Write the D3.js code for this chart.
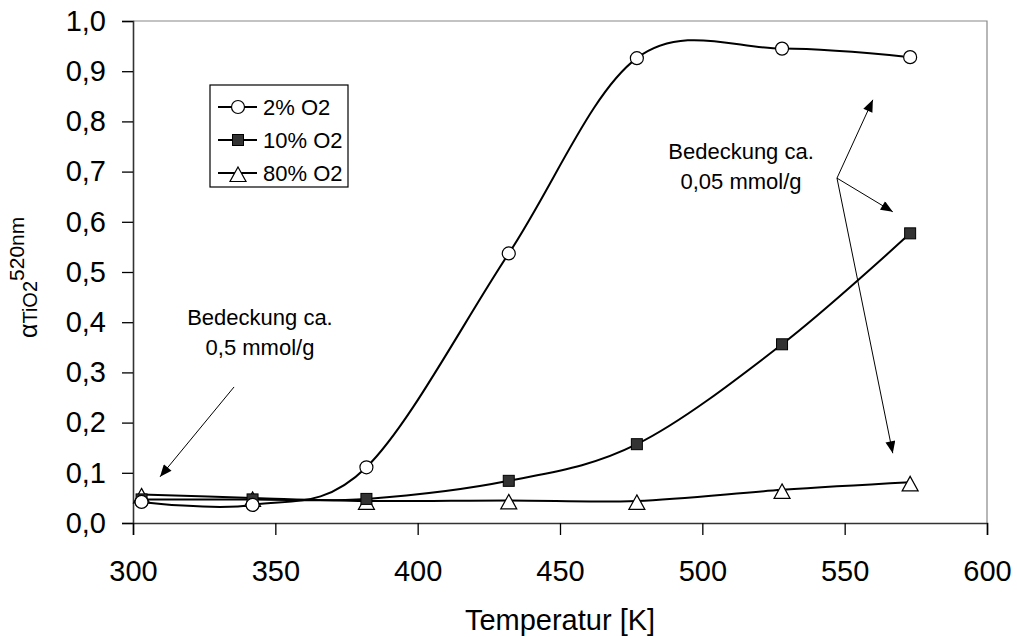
<!DOCTYPE html>
<html>
<head>
<meta charset="utf-8">
<script src="https://cdn.jsdelivr.net/npm/d3@7"></script>
<style>
  body { margin: 0; background: #fff; }
  svg { display: block; font-family: "Liberation Sans", Arial, sans-serif; }
</style>
</head>
<body>
<div class="chart"></div>
<script>
// temperatures [K]
const temps = [303, 342, 382, 432, 477, 528, 573];
// alpha TiO2 at 520nm for the three O2 concentrations
const o2_2 = [0.042, 0.036, 0.111, 0.537, 0.926, 0.945, 0.928];
const o2_10 = [0.047, 0.047, 0.048, 0.084, 0.157, 0.356, 0.577];
const o2_80 = [0.057, 0.050, 0.044, 0.045, 0.044, 0.066, 0.081];
const seriesNames = ['2% O2', '10% O2', '80% O2'];
const xTicks = [300, 350, 400, 450, 500, 550, 600];
const yTicks = [0, 0.1, 0.2, 0.3, 0.4, 0.5, 0.6, 0.7, 0.8, 0.9, 1.0];

const dims = { width: 1017, height: 637 };
const margin = { top: 21, right: 30, bottom: 114, left: 133 };
const w = dims.width - margin.left - margin.right;
const h = dims.height - margin.top - margin.bottom;

const svg = d3.select('.chart')
  .append('svg')
  .attr('width', dims.width)
  .attr('height', dims.height);

svg.append('defs').append('marker')
  .attr('id', 'head')
  .attr('viewBox', '0 0 12 10')
  .attr('refX', 12)
  .attr('refY', 5)
  .attr('markerWidth', 13)
  .attr('markerHeight', 10)
  .attr('markerUnits', 'userSpaceOnUse')
  .attr('orient', 'auto')
  .append('path')
  .attr('d', 'M0,0L12,5L0,10Z')
  .attr('fill', '#000');

const graph = svg.append('g')
  .attr('transform', `translate(${margin.left}, ${margin.top})`);

const x = d3.scaleLinear().domain([300, 600]).range([0, w]);
const y = d3.scaleLinear().domain([0, 1]).range([h, 0]);

// frame (top / right)
graph.append('path')
  .attr('d', `M0,0H${w}V${h}`)
  .attr('fill', 'none')
  .attr('stroke', '#888')
  .attr('stroke-width', 1.2);

const fmt = d => d3.format('.1f')(d).replace('.', ',');

const yAxis = graph.append('g')
  .call(d3.axisLeft(y).tickValues(yTicks).tickSize(11).tickPadding(16).tickFormat(fmt));
const xAxis = graph.append('g')
  .attr('transform', `translate(0, ${h})`)
  .call(d3.axisBottom(x).tickValues(xTicks).tickSize(12).tickPadding(25));

[xAxis, yAxis].forEach(a => {
  a.select('.domain').attr('stroke', '#333').attr('stroke-width', 1.6);
  a.selectAll('.tick line').attr('stroke', '#000').attr('stroke-width', 1.3);
  a.selectAll('text').attr('font-size', 29).attr('fill', '#000')
    .attr('font-family', '"Liberation Sans", Arial, sans-serif');
});

// axis titles
svg.append('text')
  .attr('x', margin.left + w / 2)
  .attr('y', 630)
  .attr('text-anchor', 'middle')
  .attr('font-size', 29)
  .text('Temperatur [K]');

const yTitle = svg.append('text')
  .attr('transform', `translate(37, ${margin.top + h / 2 + 66}) rotate(-90)`)
  .attr('font-size', 20);
yTitle.append('tspan').attr('font-size', 25).text('α');
yTitle.append('tspan').text('TiO2');
yTitle.append('tspan').attr('dy', -13).attr('font-size', 21).text('520nm');

// series
const series = [o2_2, o2_10, o2_80].map((vals, i) => ({
  name: seriesNames[i],
  points: temps.map((t, j) => ({ t, v: vals[j] }))
}));

const line = d3.line()
  .x(d => x(d.t))
  .y(d => y(d.v))
  .curve(d3.curveCardinal.tension(0));

graph.selectAll('path.series')
  .data(series)
  .enter()
  .append('path')
  .attr('class', 'series')
  .attr('d', d => line(d.points))
  .attr('fill', 'none')
  .attr('stroke', '#000')
  .attr('stroke-width', 2);

const tri = 'M0,-7.5L8,7L-8,7Z';
function drawMarker(sel, i) {
  if (i === 0) {
    sel.append('circle').attr('r', 6.5).attr('fill', '#fff').attr('stroke', '#000').attr('stroke-width', 1.2);
  } else if (i === 1) {
    sel.append('rect').attr('x', -5.5).attr('y', -5.5).attr('width', 11).attr('height', 11)
      .attr('fill', '#333').attr('stroke', '#000').attr('stroke-width', 1);
  } else {
    sel.append('path').attr('d', tri).attr('transform', 'translate(0,1.5)')
      .attr('fill', '#fff').attr('stroke', '#000').attr('stroke-width', 1.2);
  }
}

series.slice().reverse().forEach((s) => {
  const i = series.indexOf(s);
  graph.selectAll(null)
    .data(s.points)
    .enter()
    .append('g')
    .attr('transform', d => `translate(${x(d.t)}, ${y(d.v)})`)
    .each(function () { drawMarker(d3.select(this), i); });
});

// legend
const legend = svg.append('g').attr('transform', 'translate(210, 85)');
legend.append('rect')
  .attr('width', 138).attr('height', 102)
  .attr('fill', '#fff').attr('stroke', '#000').attr('stroke-width', 1.2);
seriesNames.forEach((name, i) => {
  const row = legend.append('g').attr('transform', `translate(0, ${22 + i * 33})`);
  row.append('line').attr('x1', 8).attr('x2', 47).attr('stroke', '#000').attr('stroke-width', 2);
  const m = row.append('g').attr('transform', 'translate(28, 0)');
  drawMarker(m, i);
  row.append('text').attr('x', 53).attr('dy', '0.36em').attr('font-size', 22).text(name);
});

// annotations
const notes = [
  { lines: ['Bedeckung ca.', '0,5 mmol/g'], t: 344.6, v: 0.394 },
  { lines: ['Bedeckung ca.', '0,05 mmol/g'], t: 513.6, v: 0.725 }
];
notes.forEach(n => {
  const txt = graph.append('text')
    .attr('x', x(n.t)).attr('y', y(n.v))
    .attr('text-anchor', 'middle')
    .attr('font-size', 22);
  n.lines.forEach((l, k) => {
    txt.append('tspan').attr('x', x(n.t)).attr('dy', k === 0 ? 0 : 30).text(l);
  });
});

const arrows = [
  { from: [335.5, 0.271], to: [309.5, 0.092] },
  { from: [547.3, 0.687], to: [559.9, 0.843] },
  { from: [547.3, 0.687], to: [566.9, 0.620] },
  { from: [547.3, 0.687], to: [566.9, 0.139] }
];
graph.selectAll('line.arrow')
  .data(arrows)
  .enter()
  .append('line')
  .attr('class', 'arrow')
  .attr('x1', d => x(d.from[0])).attr('y1', d => y(d.from[1]))
  .attr('x2', d => x(d.to[0])).attr('y2', d => y(d.to[1]))
  .attr('stroke', '#000')
  .attr('stroke-width', 1)
  .attr('marker-end', 'url(#head)');
</script>
</body>
</html>
